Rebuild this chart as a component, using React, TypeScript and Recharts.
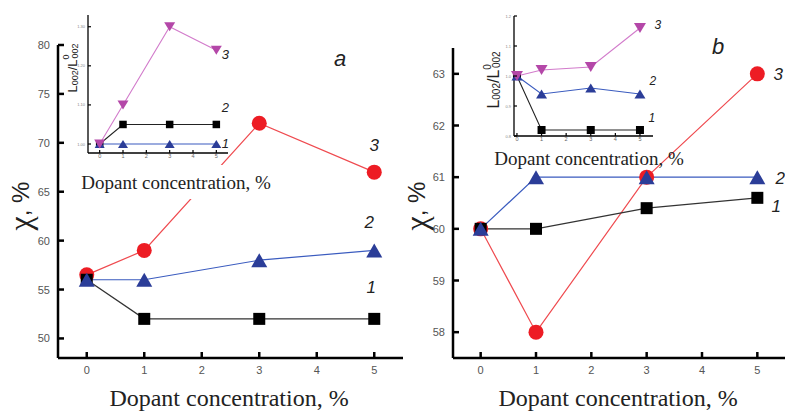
import React from 'react';
import { LineChart, Line, XAxis, YAxis, LabelList } from 'recharts';

// dopant concentration, %
const concentration = [0, 1, 3, 5];
const xTicks = [0, 1, 2, 3, 4, 5];

// panel a, crystallinity
const chiA1 = [56, 52, 52, 52];
const chiA2 = [56, 56, 58, 59];
const chiA3 = [56.5, 59, 72, 67];
const chiATicks = [50, 55, 60, 65, 70, 75, 80];

// panel a, inset L002/L0002
const ratioA1 = [1.0, 1.05, 1.05, 1.05];
const ratioA2 = [1.0, 1.0, 1.0, 1.0];
const ratioA3 = [1.0, 1.1, 1.3, 1.24];
const ratioATicks = [1.0, 1.05, 1.1, 1.15, 1.2, 1.25, 1.3];

// panel b, crystallinity
const chiB1 = [60, 60, 60.4, 60.6];
const chiB2 = [60, 61, 61, 61];
const chiB3 = [60, 58, 61, 63];
const chiBTicks = [58, 59, 60, 61, 62, 63];

// panel b, inset
const ratioB1 = [1.0, 0.82, 0.82, 0.82];
const ratioB2 = [1.0, 0.94, 0.96, 0.94];
const ratioB3 = [1.0, 1.02, 1.03, 1.16];
const ratioBTicks = [0.8, 0.9, 1.0, 1.1, 1.2];

const xTitle = 'Dopant concentration, %';

const toRows = (s1: number[], s2: number[], s3: number[]) =>
  concentration.map((c, i) => ({ c, s1: s1[i], s2: s2[i], s3: s3[i] }));

const rowsA = toRows(chiA1, chiA2, chiA3);
const rowsAi = toRows(ratioA1, ratioA2, ratioA3);
const rowsB = toRows(chiB1, chiB2, chiB3);
const rowsBi = toRows(ratioB1, ratioB2, ratioB3);

const BLACK = '#000';
const BLUE = '#2b3d98';
const RED = '#ed1c24';
const MAGENTA = '#b447a8';
const SERIF = "'Liberation Serif', serif";
const SANS = "'Liberation Sans', Arial, sans-serif";

// markers
const squareDot = (size: number) => (p: any) => (
  <rect key={`sq-${p.index}`} x={p.cx - size / 2} y={p.cy - size / 2} width={size} height={size} fill={BLACK} />
);
const circleDot = (r: number) => (p: any) => (
  <circle key={`ci-${p.index}`} cx={p.cx} cy={p.cy} r={r} fill={RED} />
);
const triDot = (w: number, h: number, fill: string, down = false) => (p: any) => {
  const { cx, cy } = p;
  const pts = down
    ? `${cx - w / 2},${cy - h / 2} ${cx + w / 2},${cy - h / 2} ${cx},${cy + h / 2}`
    : `${cx - w / 2},${cy + h / 2} ${cx + w / 2},${cy + h / 2} ${cx},${cy - h / 2}`;
  return <polygon key={`tr-${p.index}`} points={pts} fill={fill} />;
};

// number next to the last point of a curve
const endLabel = (text: string, dx: number, dy: number, size: number) => (p: any) =>
  p.index === concentration.length - 1 ? (
    <text x={p.x + dx} y={p.y + dy} textAnchor="middle" dominantBaseline="central"
      fontSize={size} fontStyle="italic" fontFamily={SANS} fill="#222">
      {text}
    </text>
  ) : null;

// ticks drawn inward
const mainXTick = (p: any) => (
  <g>
    <line x1={p.x} x2={p.x} y1={p.y - 7} y2={p.y - 13} stroke={BLACK} strokeWidth={2.5} />
    <text x={p.x} y={p.y} dy={9} textAnchor="middle" fontSize={11} fill="#555" fontFamily={SANS}>
      {p.payload.value}
    </text>
  </g>
);
const mainYTick = (p: any) => (
  <g>
    <line x1={p.x + 8} x2={p.x + 14} y1={p.y} y2={p.y} stroke={BLACK} strokeWidth={2.5} />
    <text x={p.x} y={p.y} dy={4} textAnchor="end" fontSize={11} fill="#555" fontFamily={SANS}>
      {p.payload.value}
    </text>
  </g>
);
const insetXTick = (p: any) => (
  <g>
    <line x1={p.x} x2={p.x} y1={p.y - 1} y2={p.y - 4} stroke={BLACK} strokeWidth={1.2} />
    <text x={p.x} y={p.y} dy={4} textAnchor="middle" fontSize={5.5} fill="#666" fontFamily={SANS}>
      {p.payload.value}
    </text>
  </g>
);
const insetYTick = (digits: number) => (p: any) => (
  <g>
    <line x1={p.x + 3} x2={p.x + 6} y1={p.y} y2={p.y} stroke={BLACK} strokeWidth={1.2} />
    <text x={p.x} y={p.y} dy={1.5} textAnchor="end" fontSize={4} fill="#888" fontFamily={SANS}>
      {p.payload.value.toFixed(digits)}
    </text>
  </g>
);

// axis titles and panel letter of a main panel
const PanelTitle = ({ tx, ty, letter, lx, ly, bx, by }: any) => (
  <g>
    <text x={tx} y={ty} transform={`rotate(-90 ${tx} ${ty})`} textAnchor="middle" dominantBaseline="central" fill="#222">
      <tspan fontSize={32} style={{ fontFamily: SERIF }}>χ</tspan>
      <tspan fontSize={24} style={{ fontFamily: SANS }}>, %</tspan>
    </text>
    <text x={lx} y={ly} textAnchor="middle" dominantBaseline="central" fontSize={22} fontStyle="italic" fontFamily={SANS} fill="#222">
      {letter}
    </text>
    <text x={bx} y={by} textAnchor="middle" fontSize={24} style={{ fontFamily: SERIF }} fill="#222">
      {xTitle}
    </text>
  </g>
);

const InsetYTitle = ({ tx, ty, big, small }: any) => (
  <g>
    <text x={tx} y={ty} transform={`rotate(-90 ${tx} ${ty})`} textAnchor="middle" dominantBaseline="central" fill="#222" fontFamily={SANS}>
      <tspan fontSize={big}>L</tspan>
      <tspan fontSize={small} dy={3}>002</tspan>
      <tspan fontSize={big} dy={-3}>/L</tspan>
      <tspan fontSize={small} dy={-6}>0</tspan>
      <tspan fontSize={small} dx={-4} dy={9}>002</tspan>
    </text>
  </g>
);

const InsetXTitle = ({ tx, ty, w, blank }: any) => (
  <g>
    {blank ? <rect x={tx - w / 2} y={ty - 17} width={w} height={34} fill="#fff" /> : null}
    <text x={tx} y={ty} textAnchor="middle" dominantBaseline="central" fontSize={19} style={{ fontFamily: SERIF }} fill="#222">
      {xTitle}
    </text>
  </g>
);

const mainAxisLine = { stroke: BLACK, strokeWidth: 2.5 };
const insetAxisLine = { stroke: BLACK, strokeWidth: 1.3 };

export default function App() {
  return (
    <div style={{ position: 'absolute', left: 0, top: 0, width: 785, height: 411, background: '#fff', overflow: 'hidden' }}>
      {/* panel a */}
      <div style={{ position: 'absolute', left: 0, top: 0 }}>
        <LineChart width={405} height={411} data={rowsA} margin={{ top: 45, right: 2, bottom: 0, left: 0 }}>
          <XAxis dataKey="c" type="number" domain={[-0.5, 5.5]} ticks={xTicks} height={53} tickSize={0} tickMargin={7}
            tick={mainXTick} tickLine={false} axisLine={mainAxisLine} />
          <YAxis type="number" domain={[48, 80]} ticks={chiATicks} width={58} tickSize={0} tickMargin={8}
            tick={mainYTick} tickLine={false} axisLine={mainAxisLine}
            label={<PanelTitle tx={20} ty={206} letter="a" lx={340} ly={58} bx={229} by={406} />} />
          <Line dataKey="s3" stroke="#ef4a4f" strokeWidth={1.2} dot={circleDot(7.5)} activeDot={false} isAnimationActive={false}>
            <LabelList content={endLabel('3', 0, -27, 17)} />
          </Line>
          <Line dataKey="s1" stroke="#333" strokeWidth={1.3} dot={squareDot(12)} activeDot={false} isAnimationActive={false}>
            <LabelList content={endLabel('1', -3, -31, 17)} />
          </Line>
          <Line dataKey="s2" stroke="#3a5bbf" strokeWidth={1.2} dot={triDot(16, 14, BLUE)} activeDot={false} isAnimationActive={false}>
            <LabelList content={endLabel('2', -5, -28, 17)} />
          </Line>
        </LineChart>
      </div>

      {/* panel a inset */}
      <div style={{ position: 'absolute', left: 60, top: 0 }}>
        <LineChart width={220} height={200} data={rowsAi} margin={{ top: 15, right: 52, bottom: 0, left: 0 }}>
          <XAxis dataKey="c" type="number" domain={[-0.5, 5.5]} ticks={xTicks} height={47} tickSize={0} tickMargin={1}
            tick={insetXTick} tickLine={false} axisLine={insetAxisLine}
            label={<InsetXTitle tx={116} ty={182} w={196} blank />} />
          <YAxis type="number" domain={[0.977, 1.33]} ticks={ratioATicks} width={28} tickSize={0} tickMargin={3}
            tick={insetYTick(2)} tickLine={false} axisLine={insetAxisLine}
            label={<InsetYTitle tx={12} ty={68} big={13} small={9} />} />
          <Line dataKey="s1" stroke="#222" strokeWidth={1.1} dot={squareDot(7.5)} activeDot={false} isAnimationActive={false}>
            <LabelList content={endLabel('2', 9, -17, 13)} />
          </Line>
          <Line dataKey="s2" stroke="#3a5bbf" strokeWidth={1.1} dot={triDot(10, 8, BLUE)} activeDot={false} isAnimationActive={false}>
            <LabelList content={endLabel('1', 9, -1, 13)} />
          </Line>
          <Line dataKey="s3" stroke="#d27bcb" strokeWidth={1.1} dot={triDot(11, 9, MAGENTA, true)} activeDot={false} isAnimationActive={false}>
            <LabelList content={endLabel('3', 9, 4, 13)} />
          </Line>
        </LineChart>
      </div>

      {/* panel b */}
      <div style={{ position: 'absolute', left: 395, top: 0 }}>
        <LineChart width={390} height={411} data={rowsB} margin={{ top: 48, right: 0, bottom: 0, left: 0 }}>
          <XAxis dataKey="c" type="number" domain={[-0.5, 5.5]} ticks={xTicks} height={53} tickSize={0} tickMargin={7}
            tick={mainXTick} tickLine={false} axisLine={mainAxisLine} />
          <YAxis type="number" domain={[57.5, 63.5]} ticks={chiBTicks} width={58} tickSize={0} tickMargin={8}
            tick={mainYTick} tickLine={false} axisLine={mainAxisLine}
            label={<PanelTitle tx={21} ty={206} letter="b" lx={323} ly={46} bx={223} by={406} />} />
          <Line dataKey="s3" stroke="#ef4a4f" strokeWidth={1.2} dot={circleDot(7.5)} activeDot={false} isAnimationActive={false}>
            <LabelList content={endLabel('3', 21, 1, 17)} />
          </Line>
          <Line dataKey="s1" stroke="#333" strokeWidth={1.3} dot={squareDot(12)} activeDot={false} isAnimationActive={false}>
            <LabelList content={endLabel('1', 19, 9, 17)} />
          </Line>
          <Line dataKey="s2" stroke="#3a5bbf" strokeWidth={1.2} dot={triDot(16, 14, BLUE)} activeDot={false} isAnimationActive={false}>
            <LabelList content={endLabel('2', 23, 1, 17)} />
          </Line>
        </LineChart>
      </div>

      {/* panel b inset */}
      <div style={{ position: 'absolute', left: 480, top: 0 }}>
        <LineChart width={210} height={175} data={rowsBi} margin={{ top: 16, right: 37, bottom: 0, left: 0 }}>
          <XAxis dataKey="c" type="number" domain={[-0.12, 5.53]} ticks={xTicks} height={39} tickSize={0} tickMargin={1}
            tick={insetXTick} tickLine={false} axisLine={insetAxisLine}
            label={<InsetXTitle tx={109} ty={158} w={194} />} />
          <YAxis type="number" domain={[0.8, 1.2]} ticks={ratioBTicks} width={34} tickSize={0} tickMargin={3}
            tick={insetYTick(1)} tickLine={false} axisLine={insetAxisLine}
            label={<InsetYTitle tx={13} ty={80} big={16} small={10} />} />
          <Line dataKey="s1" stroke="#222" strokeWidth={1.1} dot={squareDot(8)} activeDot={false} isAnimationActive={false}>
            <LabelList content={endLabel('1', 12, -12, 12)} />
          </Line>
          <Line dataKey="s2" stroke="#3a5bbf" strokeWidth={1.1} dot={triDot(11, 9, BLUE)} activeDot={false} isAnimationActive={false}>
            <LabelList content={endLabel('2', 13, -13, 12)} />
          </Line>
          <Line dataKey="s3" stroke="#d27bcb" strokeWidth={1.1} dot={triDot(12, 10, MAGENTA, true)} activeDot={false} isAnimationActive={false}>
            <LabelList content={endLabel('3', 18, -3, 12)} />
          </Line>
        </LineChart>
      </div>
    </div>
  );
}
